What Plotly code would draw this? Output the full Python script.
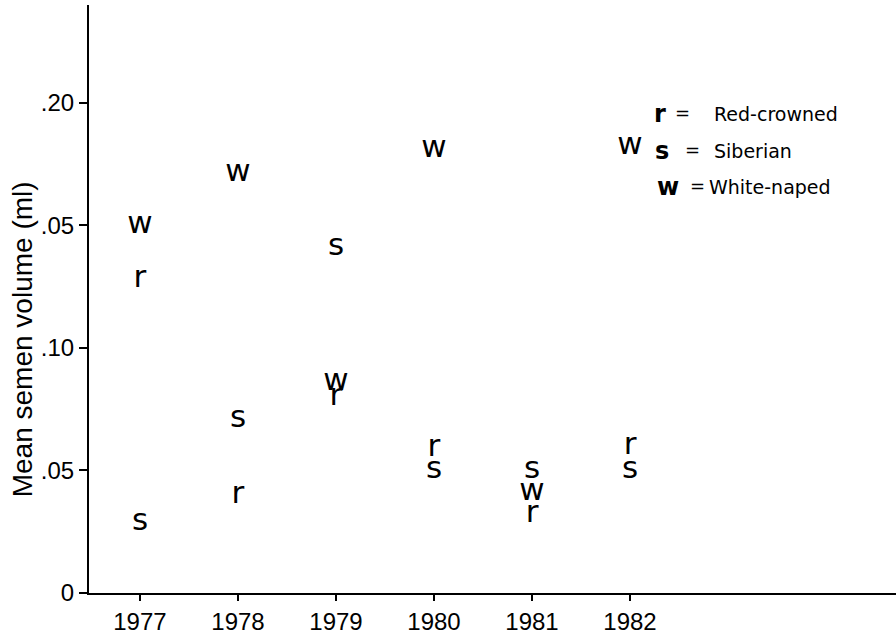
import plotly.graph_objects as go

# Mean semen volume (ml) per year for three crane species
years = [1977, 1978, 1979, 1980, 1981, 1982]
year_labels = ["1977", "1978", "1979", "1980", "1981", "1982"]
red_crowned = [0.128, 0.040, 0.080, 0.059, 0.032, 0.060]
siberian = [0.029, 0.071, 0.141, 0.050, 0.050, 0.050]
white_naped = [0.150, 0.171, 0.086, 0.181, 0.041, 0.182]

# y tick labels as printed on the axis
y_tickvals = [0.20, 0.15, 0.10, 0.05, 0.0]
y_ticktext = [".20", ".05", ".10", ".05", "0"]

legend_rows = [("r", "Red-crowned"), ("s", "Siberian"), ("w", "White-naped")]

W, H = 896, 635
ML, MR, MT, MB = 89, 0, 5, 39
PW, PH = W - ML - MR, H - MT - MB

def px(x):
    return (x - ML) / PW

def py(y):
    return (H - MB - y) / PH

mark_font = dict(family="DejaVu Sans", size=31, color="black")

fig = go.Figure()
for letter, vals in (("r", red_crowned), ("s", siberian), ("w", white_naped)):
    fig.add_trace(go.Scatter(
        x=years, y=vals, mode="text", text=[letter] * len(years),
        textposition="middle center", textfont=mark_font,
        hoverinfo="x+y", showlegend=False,
    ))

axis_font = dict(family="Liberation Sans", size=24, color="black")

fig.update_xaxes(
    range=[1976.48, 1984.714], tickvals=years, ticktext=year_labels,
    ticks="outside", ticklen=6, tickwidth=1.5, tickcolor="black",
    showline=True, linecolor="black", linewidth=2,
    showgrid=False, zeroline=False, tickfont=axis_font,
)
fig.update_yaxes(
    range=[0, 0.2398], tickvals=y_tickvals, ticktext=y_ticktext,
    ticks="outside", ticklen=8, tickwidth=1.5, tickcolor="black",
    showline=True, linecolor="black", linewidth=2,
    showgrid=False, zeroline=False, tickfont=axis_font,
)

annotations = [dict(
    text="Mean semen volume (ml)", textangle=-90,
    xref="paper", yref="paper", x=px(22), y=py(341),
    xanchor="center", yanchor="middle", showarrow=False,
    font=dict(family="Liberation Sans", size=28, color="black"),
)]

row_y = [115, 152, 188]
letter_x = [660, 662, 668]
eq_x = [682, 692, 697]
text_x = [712, 712, 707]
for (letter, name), yy, lx, ex, tx in zip(legend_rows, row_y, letter_x, eq_x, text_x):
    annotations.append(dict(
        text=f"<b>{letter}</b>", xref="paper", yref="paper", x=px(lx), y=py(yy),
        xanchor="center", yanchor="middle", showarrow=False,
        font=dict(family="DejaVu Sans", size=24, color="black"),
    ))
    annotations.append(dict(
        text="=", xref="paper", yref="paper", x=px(ex), y=py(yy - 2),
        xanchor="center", yanchor="middle", showarrow=False,
        font=dict(family="DejaVu Sans", size=18, color="black"),
    ))
    annotations.append(dict(
        text=name, xref="paper", yref="paper", x=px(tx), y=py(yy),
        xanchor="left", yanchor="middle", showarrow=False,
        font=dict(family="DejaVu Sans", size=19, color="black"),
    ))

fig.update_layout(
    width=W, height=H,
    margin=dict(l=ML, r=MR, t=MT, b=MB),
    plot_bgcolor="white", paper_bgcolor="white",
    showlegend=False, annotations=annotations,
)

fig.write_html("out.html")
